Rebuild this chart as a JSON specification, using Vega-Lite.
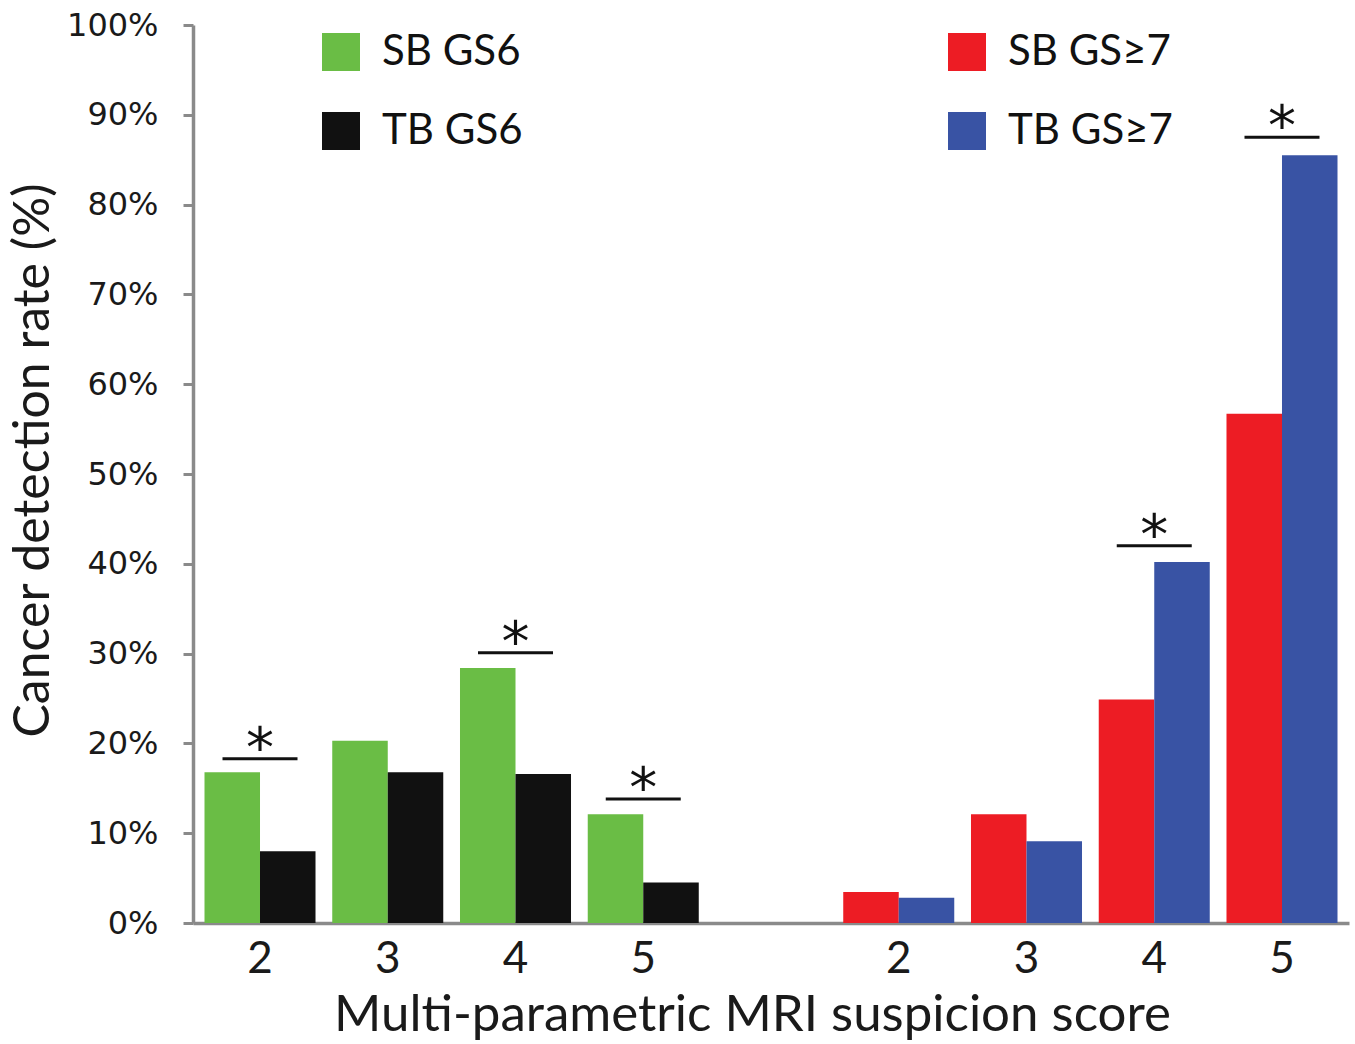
{
  "$schema": "https://vega.github.io/schema/vega-lite/v6.json",
  "width": 1156,
  "height": 898,
  "autosize": "none",
  "padding": {"left": 193, "top": 25, "right": 6, "bottom": 121},
  "background": "white",
  "config": {"view": {"stroke": null}, "axis": {"grid": false}},
  "datasets": {
    "bars": [
      {"slot": "a2", "method": "SB", "series": "SB GS6", "rate": 16.8},
      {"slot": "a2", "method": "TB", "series": "TB GS6", "rate": 8.0},
      {"slot": "a3", "method": "SB", "series": "SB GS6", "rate": 20.3},
      {"slot": "a3", "method": "TB", "series": "TB GS6", "rate": 16.8},
      {"slot": "a4", "method": "SB", "series": "SB GS6", "rate": 28.4},
      {"slot": "a4", "method": "TB", "series": "TB GS6", "rate": 16.6},
      {"slot": "a5", "method": "SB", "series": "SB GS6", "rate": 12.1},
      {"slot": "a5", "method": "TB", "series": "TB GS6", "rate": 4.5},
      {"slot": "b2", "method": "SB", "series": "SB GS≥7", "rate": 3.45},
      {"slot": "b2", "method": "TB", "series": "TB GS≥7", "rate": 2.8},
      {"slot": "b3", "method": "SB", "series": "SB GS≥7", "rate": 12.1},
      {"slot": "b3", "method": "TB", "series": "TB GS≥7", "rate": 9.1},
      {"slot": "b4", "method": "SB", "series": "SB GS≥7", "rate": 24.9},
      {"slot": "b4", "method": "TB", "series": "TB GS≥7", "rate": 40.2},
      {"slot": "b5", "method": "SB", "series": "SB GS≥7", "rate": 56.7},
      {"slot": "b5", "method": "TB", "series": "TB GS≥7", "rate": 85.5}
    ],
    "sig": [
      {"slot": "a2", "level": 18.3},
      {"slot": "a4", "level": 30.1},
      {"slot": "a5", "level": 13.8},
      {"slot": "b4", "level": 42.0},
      {"slot": "b5", "level": 87.5}
    ]
  },
  "layer": [
    {
      "data": {"name": "bars"},
      "mark": {"type": "bar"},
      "encoding": {
        "x": {
          "field": "slot",
          "type": "nominal",
          "sort": null,
          "scale": {
            "domain": ["a2", "a3", "a4", "a5", "gap", "b2", "b3", "b4", "b5"],
            "paddingInner": 0.131,
            "paddingOuter": 0.09
          },
          "axis": {
            "title": "Multi-parametric MRI suspicion score",
            "titleFont": "Lato",
            "titleFontSize": 51,
            "titleFontWeight": "normal",
            "titleColor": "#1a1a1a",
            "titleX": 559,
            "titleY": 107,
            "titleBaseline": "alphabetic",
            "labelExpr": "datum.value == 'gap' ? '' : substring(datum.value, 1)",
            "labelFont": "Lato",
            "labelFontSize": 44,
            "labelColor": "#1a1a1a",
            "labelAngle": 0,
            "labelBaseline": "alphabetic",
            "labelPadding": 49,
            "ticks": false,
            "tickSize": 0,
            "domainColor": "#8a8a8a",
            "domainWidth": 3.5
          }
        },
        "xOffset": {
          "field": "method",
          "type": "nominal",
          "scale": {"domain": ["SB", "TB"], "paddingInner": 0, "paddingOuter": 0}
        },
        "y": {
          "field": "rate",
          "type": "quantitative",
          "scale": {"domain": [0, 100]},
          "axis": {
            "title": "Cancer detection rate (%)",
            "titleFont": "Lato",
            "titleFontSize": 50,
            "titleFontWeight": "normal",
            "titleColor": "#1a1a1a",
            "titlePadding": 8,
            "titleY": 435,
            "values": [0, 10, 20, 30, 40, 50, 60, 70, 80, 90, 100],
            "labelExpr": "datum.value + '%'",
            "labelFont": "DejaVu Sans",
            "labelFontSize": 32,
            "labelColor": "#1a1a1a",
            "labelPadding": 25,
            "tickSize": 10,
            "tickColor": "#8a8a8a",
            "tickWidth": 3,
            "domainColor": "#8a8a8a",
            "domainWidth": 3.5
          }
        },
        "color": {
          "field": "series",
          "type": "nominal",
          "scale": {
            "domain": ["SB GS6", "TB GS6", "SB GS≥7", "TB GS≥7"],
            "range": ["#6abd45", "#111111", "#ed1c24", "#3953a4"]
          },
          "legend": {
            "title": null,
            "orient": "none",
            "legendX": 127,
            "legendY": 6,
            "columns": 2,
            "columnPadding": 423,
            "rowPadding": 37,
            "padding": 0,
            "symbolType": "square",
            "symbolSize": 1444,
            "symbolStrokeWidth": 0,
            "symbolOpacity": 1,
            "labelFont": "Lato",
            "labelFontSize": 42,
            "labelColor": "#111111",
            "labelOffset": 20,
            "labelLimit": 0
          }
        }
      }
    },
    {
      "data": {"name": "sig"},
      "mark": {"type": "tick", "color": "#111111", "opacity": 1, "size": 75, "thickness": 3},
      "encoding": {
        "x": {"field": "slot", "type": "nominal"},
        "y": {"field": "level", "type": "quantitative"}
      }
    },
    {
      "data": {"name": "sig"},
      "mark": {"type": "text", "text": "*", "font": "DejaVu Sans", "fontSize": 56, "dy": 8, "baseline": "alphabetic", "color": "#111111"},
      "encoding": {
        "x": {"field": "slot", "type": "nominal"},
        "y": {"field": "level", "type": "quantitative"}
      }
    }
  ]
}
